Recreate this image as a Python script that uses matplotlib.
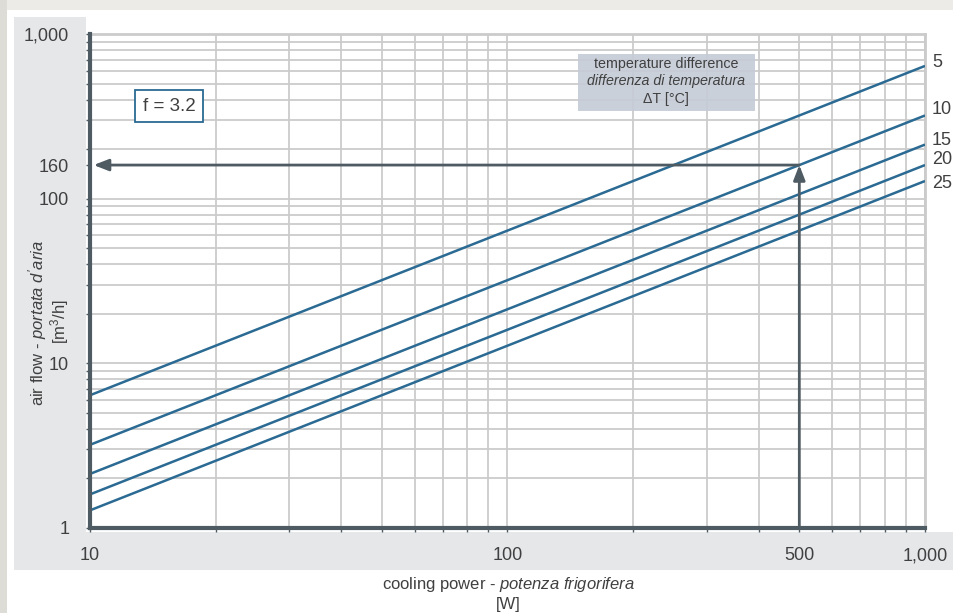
import matplotlib
matplotlib.use("Agg")
import matplotlib.pyplot as plt
from matplotlib.patches import Rectangle
from matplotlib.ticker import FixedLocator, FixedFormatter, LogLocator, NullFormatter

plt.rcParams['font.family'] = ['Liberation Sans', 'DejaVu Sans']
plt.rcParams['mathtext.fontset'] = 'custom'
plt.rcParams['mathtext.rm'] = 'Liberation Sans'
plt.rcParams['mathtext.it'] = 'Liberation Sans:italic'
plt.rcParams['mathtext.bf'] = 'Liberation Sans:bold'

# ---- data ----
power = [10, 1000]                       # W
delta_t = [5, 10, 15, 20, 25]            # °C
airflow = {                              # m3/h at 10 W and 1000 W
    5: [6.4, 640],
    10: [3.2, 320],
    15: [2.13, 213],
    20: [1.6, 160],
    25: [1.28, 128],
}
label_y = [667, 346, 224, 172, 124]      # label positions (data units)
example_power = 500
example_flow = 160
x_ticks = [10, 100, 500, 1000]
x_tick_labels = ['10', '100', '500', '1,000']
y_ticks = [1, 10, 100, 160, 1000]
y_tick_labels = ['1', '10', '100', '160', '1,000']

W, H = 954, 613
fig = plt.figure(figsize=(W / 100, H / 100), dpi=100)
fig.patch.set_facecolor('white')
txt_c = '#404040'

def rect(x0, y0, x1, y1, color, z=-10):
    fig.patches.append(Rectangle((x0 / W, 1 - y1 / H), (x1 - x0) / W, (y1 - y0) / H,
                                 transform=fig.transFigure, facecolor=color,
                                 edgecolor='none', zorder=z))

# outer frame
rect(0, 0, W, 10, '#ecebe8')
rect(0, 0, 7, H, '#dedcd7')
# gray L-shaped panel
rect(14, 17, 86, 570, '#e6e7e9')
rect(14, 532, W, 570, '#e6e7e9')

ax = fig.add_axes([90 / W, (H - 528) / H, 835 / W, 494 / H])
ax.set_facecolor('white')
ax.set_xscale('log')
ax.set_yscale('log')
ax.set_xlim(10, 1000)
ax.set_ylim(1, 1000)

# grid
grid_c = '#cbcbcb'
ax.xaxis.set_minor_locator(LogLocator(base=10, subs=range(2, 10)))
ax.yaxis.set_minor_locator(LogLocator(base=10, subs=range(2, 10)))
ax.xaxis.set_minor_formatter(NullFormatter())
ax.yaxis.set_minor_formatter(NullFormatter())
for xv in [m * 10 ** k for k in (1, 2) for m in range(1, 10)] + [1000]:
    ax.axvline(xv, color=grid_c, lw=1.3, zorder=1)
for yv in [m * 10 ** k for k in (0, 1, 2) for m in range(1, 10)] + [1000]:
    ax.axhline(yv, color=grid_c, lw=1.3, zorder=1)

ax.xaxis.set_major_locator(FixedLocator(x_ticks))
ax.xaxis.set_major_formatter(FixedFormatter(x_tick_labels))
ax.yaxis.set_major_locator(FixedLocator(y_ticks))
ax.yaxis.set_major_formatter(FixedFormatter(y_tick_labels))
ax.tick_params(axis='both', which='both', colors='#4f5b63', labelcolor=txt_c,
               labelsize=13, length=3, width=1)
ax.tick_params(axis='x', which='major', pad=11)
ax.tick_params(axis='y', which='major', pad=12)

for s in ('left', 'bottom'):
    ax.spines[s].set_color('#4f5b63')
    ax.spines[s].set_linewidth(3)
    ax.spines[s].set_zorder(5)
for s in ('top', 'right'):
    ax.spines[s].set_color(grid_c)
    ax.spines[s].set_linewidth(2)

# lines
line_c = '#2a6a93'
for dt in delta_t:
    ax.plot(power, airflow[dt], color=line_c, lw=1.8, zorder=3, solid_capstyle='butt')
for dt, ly in zip(delta_t, label_y):
    ax.text(1040, ly, str(dt), fontsize=13, color=txt_c, va='center', ha='left',
            clip_on=False)

# example arrows
arr_c = '#4f5b63'
ax.annotate('', xy=(example_power, example_flow), xytext=(example_power, 1),
            arrowprops=dict(arrowstyle='-|>,head_width=0.35,head_length=0.9',
                            color=arr_c, lw=2, shrinkA=0, shrinkB=0), zorder=4)
ax.annotate('', xy=(10.2, example_flow), xytext=(example_power, example_flow),
            arrowprops=dict(arrowstyle='-|>,head_width=0.35,head_length=0.9',
                            color=arr_c, lw=2, shrinkA=0, shrinkB=0), zorder=4)

# f box
fig.text(169 / W, 1 - 106 / H, 'f = 3.2', fontsize=13.5, color=txt_c,
         ha='center', va='center',
         bbox=dict(boxstyle='square,pad=0.4', facecolor='white', edgecolor=line_c, lw=1.3))

# temperature difference box
fig.patches.append(Rectangle((578 / W, 1 - 111 / H), 177 / W, 57 / H,
                             transform=fig.transFigure, facecolor='#c5cbd6',
                             edgecolor='none', alpha=0.9, zorder=6))
fig.text(666 / W, 1 - 64 / H, 'temperature difference', fontsize=10.3, color=txt_c,
         ha='center', va='center', zorder=7)
fig.text(666 / W, 1 - 81 / H, 'differenza di temperatura', fontsize=10.3, color=txt_c,
         style='italic', ha='center', va='center', zorder=7)
fig.text(666 / W, 1 - 99 / H, '\u0394T [°C]', fontsize=10.3, color=txt_c,
         ha='center', va='center', zorder=7)

# axis labels
fig.text(508 / W, 1 - 584 / H,
         r'cooling power - $\mathit{potenza\ frigorifera}$',
         fontsize=12, color=txt_c, ha='center', va='center')
fig.text(508 / W, 1 - 605 / H, '[W]', fontsize=12, color=txt_c,
         ha='center', va='center')
fig.text(38 / W, 1 - 323 / H,
         r"air flow - $\mathit{portata\ d'aria}$",
         fontsize=12, color=txt_c, ha='center', va='center', rotation=90)
fig.text(60 / W, 1 - 322 / H, r'[m$^3$/h]', fontsize=12, color=txt_c,
         ha='center', va='center', rotation=90)

fig.savefig('out.png', dpi=100, facecolor=fig.get_facecolor())
